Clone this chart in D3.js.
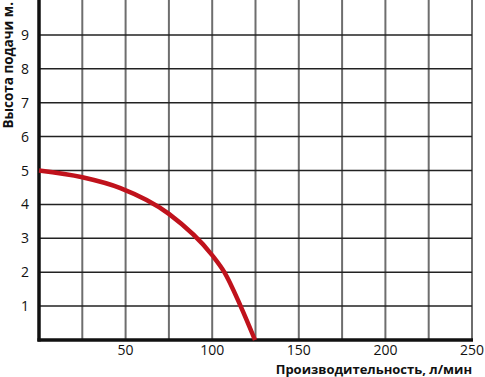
<!DOCTYPE html>
<html>
<head>
<meta charset="utf-8">
<script src="https://cdn.jsdelivr.net/npm/d3@7"></script>
<style>
  body { margin: 0; background: #fff; }
  svg { display: block; font-family: 'Open Sans', sans-serif; }
</style>
</head>
<body>
<svg id="chart" width="485" height="377"></svg>
<script>
// flow rate (x) vs head (y)
const flow = [0, 25, 47, 75, 100, 107, 116.4, 124.7];
const head = [5, 4.8, 4.48, 3.72, 2.5, 2, 1, 0];
const xTicks = [50, 100, 150, 200, 250];
const yTicks = [1, 2, 3, 4, 5, 6, 7, 8, 9];
const xGrid = d3.range(25, 251, 25);

const svg = d3.select('#chart');

const x = d3.scaleLinear().domain([0, 250]).range([39, 472]);
const y = d3.scaleLinear().domain([0, 10]).range([340, 1]);

// vertical grid
svg.append('g')
  .selectAll('line')
  .data(xGrid)
  .enter()
  .append('line')
  .attr('x1', d => x(d)).attr('x2', d => x(d))
  .attr('y1', 0).attr('y2', y(0))
  .attr('stroke', '#6e6e6e')
  .attr('stroke-width', 2);

// horizontal grid
svg.append('g')
  .selectAll('line')
  .data(yTicks)
  .enter()
  .append('line')
  .attr('x1', x(0)).attr('x2', x(250))
  .attr('y1', d => y(d)).attr('y2', d => y(d))
  .attr('stroke', '#222')
  .attr('stroke-width', 1.5);

// axis frame
svg.append('line')
  .attr('x1', x(0)).attr('x2', x(0))
  .attr('y1', 0).attr('y2', y(0) + 1.5)
  .attr('stroke', '#111').attr('stroke-width', 3.5);
svg.append('line')
  .attr('x1', x(0) - 1.5).attr('x2', x(250) + 1)
  .attr('y1', y(0)).attr('y2', y(0))
  .attr('stroke', '#111').attr('stroke-width', 3.5);

// tick labels
svg.append('g')
  .selectAll('text')
  .data(yTicks)
  .enter()
  .append('text')
  .attr('x', 25)
  .attr('y', d => y(d) + 5)
  .attr('text-anchor', 'middle')
  .style('font-size', '14px')
  .attr('fill', '#111')
  .text(d => d);

svg.append('g')
  .selectAll('text')
  .data(xTicks)
  .enter()
  .append('text')
  .attr('x', d => x(d))
  .attr('y', 355)
  .attr('text-anchor', 'middle')
  .style('font-size', '14px')
  .attr('fill', '#111')
  .text(d => d);

// axis titles
svg.append('text')
  .attr('transform', 'translate(13,2) rotate(-90)')
  .attr('text-anchor', 'end')
  .style('font-size', '13.5px')
  .style('font-weight', 'bold')
  .attr('fill', '#111')
  .text('Высота подачи м.');

svg.append('text')
  .attr('x', 472)
  .attr('y', 374)
  .attr('text-anchor', 'end')
  .style('font-size', '13px')
  .style('font-weight', 'bold')
  .attr('fill', '#111')
  .text('Производительность, л/мин');

// pump curve
const line = d3.line()
  .x(d => x(d[0]))
  .y(d => y(d[1]))
  .curve(d3.curveMonotoneX);

svg.append('path')
  .datum(d3.zip(flow, head))
  .attr('d', line)
  .attr('fill', 'none')
  .attr('stroke', '#c0121c')
  .attr('stroke-width', 4.5);
</script>
</body>
</html>
